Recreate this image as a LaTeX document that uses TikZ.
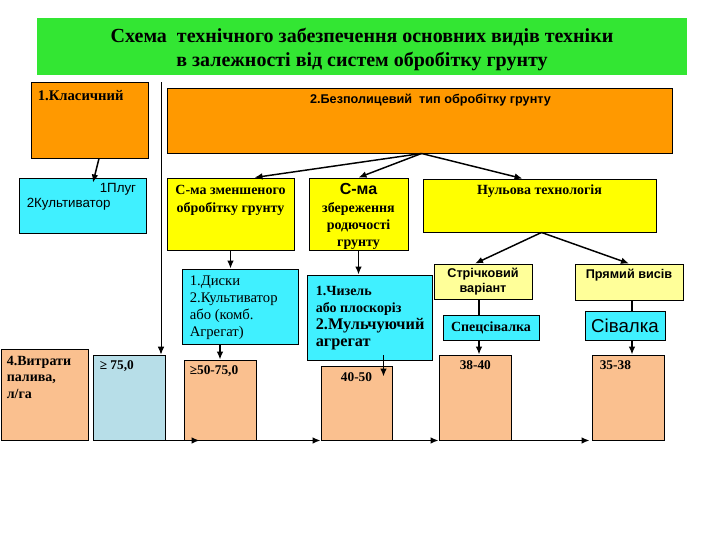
\documentclass[tikz,border=0pt]{standalone}
\usepackage{fontspec}
\setmainfont{Liberation Serif}
\setsansfont{Liberation Sans}
\usetikzlibrary{fit,calc,arrows.meta}
\definecolor{titlegreen}{RGB}{51,230,51}
\definecolor{orangeb}{RGB}{255,153,0}
\definecolor{yellowb}{RGB}{255,255,0}
\definecolor{lyellow}{RGB}{255,255,153}
\definecolor{cyanb}{RGB}{64,240,255}
\definecolor{peach}{RGB}{250,192,143}
\definecolor{lblue}{RGB}{183,222,232}
\newcommand\mybox[6]{\node[box,#6,fit={(#2,#3) (#4,#5)}] (#1) {};}
\begin{document}
\begin{tikzpicture}[x=0.75pt,y=-0.75pt,
  box/.style={draw=black, line width=0.7pt, inner sep=0pt},
  arr/.style={line width=1.1pt, -{Latex[length=6pt,width=5pt]}},
  ln/.style={line width=1.1pt},
  txt/.style={inner sep=0pt, text=black}]
\useasboundingbox (0,0) rectangle (720,540);
\fill[white] (0,0) rectangle (720,540);
% boxes
\mybox{title}{37}{18}{687}{75}{fill=titlegreen,draw=none}
\mybox{k}{31}{82}{148}{158}{fill=orangeb}
\mybox{b2}{167}{88}{672}{153}{fill=orangeb}
\mybox{c1}{19}{178}{146}{233}{fill=cyanb}
\mybox{yz}{167}{178}{294}{250}{fill=yellowb}
\mybox{sbz}{309}{178}{408}{250}{fill=yellowb}
\mybox{nul}{423}{179}{656}{232}{fill=yellowb}
\mybox{disk}{182}{269}{298}{344}{fill=cyanb}
\mybox{chiz}{307}{275}{432}{360}{fill=cyanb}
\mybox{str}{434}{264}{532}{299}{fill=lyellow}
\mybox{pv}{575}{264}{683}{300}{fill=lyellow}
\mybox{spec}{443}{315}{539}{340}{fill=cyanb}
\mybox{siv}{585}{311}{665}{340}{fill=cyanb}
\mybox{v1}{1}{349}{88}{440}{fill=peach}
\mybox{v2}{93}{355}{165}{440}{fill=lblue}
\mybox{v3}{184}{360}{256}{440}{fill=peach}
\mybox{v4}{321}{366}{392}{440}{fill=peach}
\mybox{v5}{439}{355}{511}{440}{fill=peach}
\mybox{v6}{592}{355}{664}{440}{fill=peach}
% texts
\node[txt, font=\bfseries\fontsize{15}{18.2}\selectfont, align=center] (tt) at ($(title.center)+(0,3)$) {Схема\ \ технічного забезпечення основних видів техніки\\в залежності від систем обробітку грунту};
\node[txt, anchor=west, font=\bfseries\fontsize{11}{13}\selectfont] (kt) at ($(k.north west)+(7,14)$) {1.Класичний};
\node[txt, font=\sffamily\bfseries\fontsize{9.5}{11}\selectfont] (b2t) at ($(b2.north)+(11,13)$) {2.Безполицевий\ \ тип обробітку грунту};
\node[txt, anchor=west, font=\sffamily\fontsize{10}{12}\selectfont] (c1a) at ($(c1.north west)+(81,12)$) {1Плуг};
\node[txt, anchor=west, font=\sffamily\fontsize{10}{12}\selectfont] (c1b) at ($(c1.north west)+(8,27)$) {2Культиватор};
\node[txt, align=center, font=\bfseries\fontsize{10.5}{13.5}\selectfont] (yzt) at ($(yz.north)+(0,23)$) {С-ма зменшеного\\обробітку грунту};
\node[txt, align=center, anchor=north, font=\bfseries\fontsize{10.5}{13}\selectfont] (sbzt) at ($(sbz.north)+(0,6)$) {{\sffamily\fontsize{12}{13}\selectfont С-ма}\\збереження\\родючості\\грунту};
\node[txt, font=\bfseries\fontsize{10.5}{13}\selectfont] (nult) at ($(nul.north)+(0,13)$) {Нульова технологія};
\node[txt, anchor=north west, align=left, font=\fontsize{11}{12.75}\selectfont] (diskt) at ($(disk.north west)+(8,7)$) {1.Диски\\2.Культиватор\\або (комб.\\Агрегат)};
\node[txt, anchor=north west, align=left, font=\bfseries\fontsize{10.5}{12.75}\selectfont] (chizt) at ($(chiz.north west)+(9,11)$) {1.Чизель\\або плоскоріз\\{\fontsize{12.2}{14}\selectfont 2.Мульчуючий}\\{\fontsize{12.2}{14}\selectfont агрегат}};
\node[txt, align=center, font=\sffamily\bfseries\fontsize{9.5}{11.25}\selectfont] (strt) at ($(str.north)+(0,18)$) {Стрічковий\\варіант};
\node[txt, font=\sffamily\bfseries\fontsize{9.5}{11}\selectfont] (pvt) at ($(pv.north)+(0,12)$) {Прямий висів};
\node[txt, font=\bfseries\fontsize{10.5}{12}\selectfont] (spect) at (spec.center) {Спецсівалка};
\node[txt, font=\sffamily\fontsize{14}{16}\selectfont] (sivt) at (siv.center) {Сівалка};
\node[txt, anchor=north west, align=left, font=\bfseries\fontsize{10.5}{12.4}\selectfont] (v1t) at ($(v1.north west)+(6,7)$) {4.Витрати\\палива,\\л/га};
\node[txt, anchor=west, font=\bfseries\fontsize{10}{12}\selectfont] (v2t) at ($(v2.north west)+(7,12)$) {≥ 75,0};
\node[txt, anchor=west, font=\bfseries\fontsize{10}{12}\selectfont] (v3t) at ($(v3.north west)+(6,12)$) {≥50-75,0};
\node[txt, font=\bfseries\fontsize{10}{12}\selectfont] (v4t) at ($(v4.north)+(0,12)$) {40-50};
\node[txt, anchor=west, font=\bfseries\fontsize{10}{12}\selectfont] (v5t) at ($(v5.north west)+(21,11)$) {38-40};
\node[txt, anchor=west, font=\bfseries\fontsize{10}{12}\selectfont] (v6t) at ($(v6.north west)+(8,11)$) {35-38};
% connectors
\draw[arr] ($(k.south)+(9.5,0)$) -- ($(c1.north)+(10.5,5)$);
\coordinate (vtop) at (161,82);
\draw[line width=0.7pt, -{Latex[length=6pt,width=5pt]}] (vtop) -- (vtop |- v2.north);
\coordinate (apex) at ($(b2.south)+(2,0)$);
\draw[arr] (apex) -- ($(yz.north)+(24,0)$);
\draw[arr] (apex) -- (sbz.north);
\draw[arr] (apex) -- ($(nul.north)+(-17,0)$);
\coordinate (apex2) at ($(nul.south)+(2,0)$);
\draw[arr] (apex2) -- ($(str.north)+(-8,0)$);
\draw[arr] (apex2) -- (pv.north);
\draw[arr] (yz.south) -- (yz.south |- disk.north);
\draw[arr] (sbz.south) -- (sbz.south |- chiz.north);
\draw[arr] (v3.north |- disk.south) -- (v3.north);
\draw[arr] ($(chiz.south)+(14,-5)$) -- ($(v4.north)+(27,11)$);
\draw[ln] ($(str.south)+(-4,0)$) -- ($(spec.north)+(-12,0)$);
\draw[arr] ($(spec.south)+(-12,0)$) -- ($(v5.north)+(4,0)$);
\draw[ln] ($(pv.south)+(3,0)$) -- ($(siv.north)+(7,0)$);
\draw[arr] ($(siv.south)+(7,0)$) -- ($(v6.north)+(4,0)$);
\draw[arr] (v2.south east) -- ($(v3.south west)+(16,0)$);
\draw[arr] (v3.south east) -- (v4.south west);
\draw[arr] (v4.south east) -- (v5.south west);
\draw[arr] (v5.south east) -- ($(v6.south west)+(-2,0)$);
\end{tikzpicture}
\end{document}
